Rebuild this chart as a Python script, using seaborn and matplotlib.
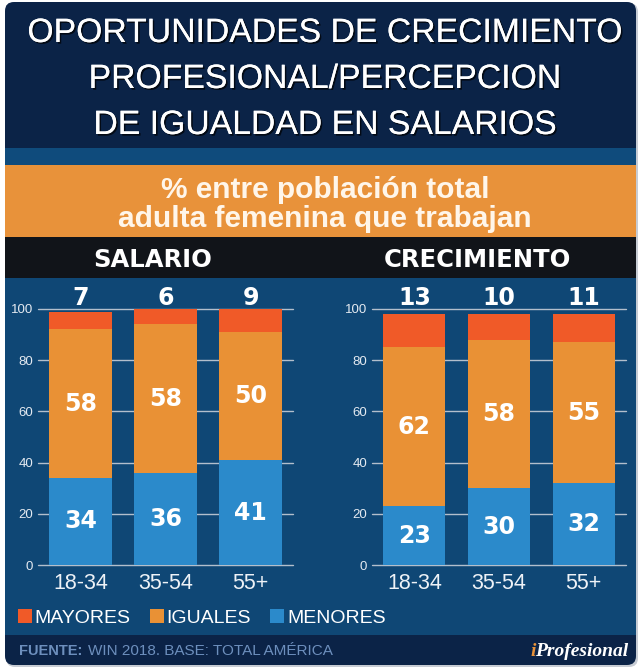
import matplotlib
matplotlib.use("Agg")
import matplotlib.pyplot as plt
import seaborn as sns
import numpy as np
import pandas as pd
from matplotlib.patches import FancyBboxPatch, Rectangle, Patch
from matplotlib import patheffects as pe

# ---------------- data ----------------
age_groups = ["18-34", "35-54", "55+"]
salario_menores = [34, 36, 41]
salario_iguales = [58, 58, 50]
salario_mayores = [7, 6, 9]
crec_menores = [23, 30, 32]
crec_iguales = [62, 58, 55]
crec_mayores = [13, 10, 11]
series_labels = ["MAYORES", "IGUALES", "MENORES"]
title_lines = ["OPORTUNIDADES DE CRECIMIENTO", "PROFESIONAL/PERCEPCION", "DE IGUALDAD EN SALARIOS"]
subtitle_lines = ["% entre población total", "adulta femenina que trabajan"]
panel_titles = ["SALARIO", "CRECIMIENTO"]
y_ticks = [0, 20, 40, 60, 80, 100]
source_label = "FUENTE:"
source_text = "WIN 2018. BASE: TOTAL AMÉRICA"
brand_i = "i"
brand_rest = "Profesional"

# ---------------- style ----------------
COL_MAY = "#f05a28"
COL_IGU = "#e99135"
COL_MEN = "#2b8acb"
NAVY = "#0b2347"
PANEL = "#0f4775"
BAND = "#0f4b7c"
ORANGE = "#e8923a"
BLACK = "#111419"

W, H = 641, 668
sns.set_theme(style="white")
plt.rcParams["font.family"] = ["Liberation Sans", "DejaVu Sans"]

fig = plt.figure(figsize=(W / 100, H / 100), dpi=100, facecolor="white")


def px_rect(x0, y0, x1, y1, color, rounded=0, z=0):
    tr = fig.dpi_scale_trans
    if rounded:
        p = FancyBboxPatch((x0 / 100, (H - y1) / 100), (x1 - x0) / 100, (y1 - y0) / 100,
                           boxstyle=f"round,pad=0,rounding_size={rounded / 100}",
                           transform=tr, facecolor=color, edgecolor="none", zorder=z)
    else:
        p = Rectangle((x0 / 100, (H - y1) / 100), (x1 - x0) / 100, (y1 - y0) / 100,
                      transform=tr, facecolor=color, edgecolor="none", zorder=z)
    fig.add_artist(p)


def fx(x):
    return x / W


def fy(y):
    return 1 - y / H


# background panels
px_rect(6, 3, 638, 667, "#c7ccd4", rounded=9, z=-10)
px_rect(5, 2, 636, 665, NAVY, rounded=9, z=-9)
px_rect(5, 148, 636, 165, BAND, z=-8)
px_rect(5, 165, 636, 237, ORANGE, z=-8)
px_rect(5, 237, 636, 278, BLACK, z=-8)
px_rect(5, 278, 636, 635, PANEL, z=-8)

# title
title_base = [42, 88, 134]
for line, yb in zip(title_lines, title_base):
    fig.text(fx(325), fy(yb), line, ha="center", va="baseline", fontsize=24.3,
             color="white",
             path_effects=[pe.withSimplePatchShadow(offset=(1.2, -1.2), shadow_rgbFace="black", alpha=0.7),
                           pe.Normal()])

sub_base = [198, 227]
for line, yb in zip(subtitle_lines, sub_base):
    fig.text(fx(325), fy(yb), line, ha="center", va="baseline", fontsize=21.5,
             fontweight="bold", color="#fff6ea")

for t, xc in zip(panel_titles, [152.5, 477.5]):
    fig.text(fx(xc), fy(267), t, ha="center", va="baseline", fontsize=17.5,
             fontweight="bold", family=["DejaVu Sans"], color="white")

# ---------------- charts ----------------
ax1 = fig.add_axes([fx(38), fy(565), 255 / W, 256 / H])
ax2 = fig.add_axes([fx(372), fy(565), 254 / W, 256 / H])


def draw(ax, men, igu, may):
    df = pd.DataFrame({"edad": age_groups, "menores": men, "iguales": igu, "mayores": may})
    bot2 = np.array(men)
    bot3 = np.array(men) + np.array(igu)
    bar_kw = dict(saturation=1, width=0.73, ax=ax, edgecolor="none", linewidth=0)
    sns.barplot(data=df, x="edad", y="menores", color=COL_MEN, **bar_kw)
    sns.barplot(data=df, x="edad", y="iguales", color=COL_IGU, bottom=bot2, **bar_kw)
    sns.barplot(data=df, x="edad", y="mayores", color=COL_MAY, bottom=bot3, **bar_kw)
    lab_kw = dict(color="white", fontsize=17, fontweight="bold", family=["DejaVu Sans"])
    ax.bar_label(ax.containers[0], labels=[str(v) for v in men], label_type="center", **lab_kw)
    ax.bar_label(ax.containers[1], labels=[str(v) for v in igu], label_type="center", **lab_kw)
    for i, v in enumerate(may):
        ax.text(i, 101.6, str(v), ha="center", va="baseline", **lab_kw)

    ax.set_ylim(0, 100)
    ax.set_xlim(-0.5, 2.5)
    ax.set_yticks(y_ticks)
    ax.set_xlabel("")
    ax.set_ylabel("")
    ax.set_facecolor((0, 0, 0, 0))
    for s in ax.spines.values():
        s.set_visible(False)
    ax.yaxis.grid(True, color="#b3bfcc", lw=1)
    ax.set_axisbelow(True)
    for l in ax.get_ygridlines():
        l.set_clip_on(False)
    ax.tick_params(axis="y", length=0, pad=3.6, labelsize=9.5, labelcolor="#e4eaf1")
    ax.tick_params(axis="x", length=0, pad=6, labelsize=15.5, labelcolor="#eef2f7")


draw(ax1, salario_menores, salario_iguales, salario_mayores)
draw(ax2, crec_menores, crec_iguales, crec_mayores)

# legend
handles = [Patch(facecolor=c, edgecolor="none") for c in [COL_MAY, COL_IGU, COL_MEN]]
fig.legend(handles, series_labels, loc="center left", bbox_to_anchor=(fx(18), fy(618)),
           ncol=3, frameon=False, fontsize=14, labelcolor="white", handlelength=0.7,
           handleheight=0.7, handletextpad=0.15, columnspacing=1.0, borderpad=0,
           borderaxespad=0)

# footer
src_col = "#6d8fbd"
t1 = fig.text(fx(19), fy(655), source_label, ha="left", va="baseline", fontsize=10.5,
              fontweight="bold", color=src_col)
tb = fig.text(fx(628), fy(656), brand_rest, ha="right", va="baseline", fontsize=14,
              family=["Liberation Serif"], style="italic", fontweight="bold", color="white")
fig.canvas.draw()
r = fig.canvas.get_renderer()
bb = t1.get_window_extent(r)
fig.text((bb.x1 + 6) / W, fy(655), source_text, ha="left", va="baseline", fontsize=11,
         color=src_col)
bb2 = tb.get_window_extent(r)
fig.text((bb2.x0 + 1) / W, fy(656), brand_i, ha="right", va="baseline", fontsize=14,
         family=["Liberation Serif"], style="italic", fontweight="bold", color=ORANGE)

fig.savefig("out.png", dpi=100, facecolor="white")
